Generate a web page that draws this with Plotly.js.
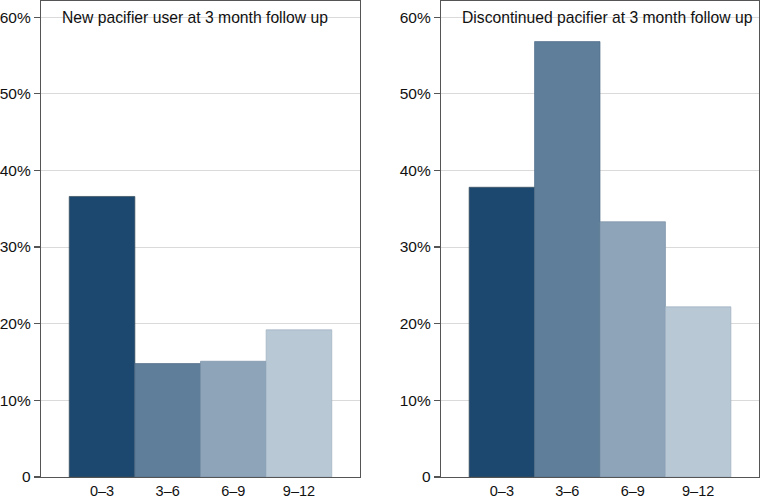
<!DOCTYPE html>
<html>
<head>
<meta charset="utf-8">
<script src="https://cdn.plot.ly/plotly-3.0.1.min.js"></script>
<style>html,body{margin:0;padding:0;background:#fff;}#chart{width:761px;height:498px;}</style>
</head>
<body>
<div id="chart"></div>
<script>
const categories = ["0–3", "3–6", "6–9", "9–12"];
const newUser = [36.6, 14.8, 15.1, 19.2];
const discontinued = [37.8, 56.8, 33.3, 22.2];
const panelTitles = ["New pacifier user at 3 month follow up", "Discontinued pacifier at 3 month follow up"];
const yTickVals = [0, 10, 20, 30, 40, 50, 60];
const yTickText = ["0", "10%", "20%", "30%", "40%", "50%", "60%"];

const barColors = ["#1c4870", "#5f7e9a", "#8ea4b9", "#b9c8d5"];
const lineColors = ["#3a4f5a", "#4f6d88", "#7890a6", "#9fb0c0"];
const xpos = categories.map((c, i) => i + 1);

const traces = [
  {type: "bar", x: xpos, y: newUser, width: 1, xaxis: "x", yaxis: "y",
   marker: {color: barColors, line: {color: lineColors, width: 0.7}}, hoverinfo: "skip"},
  {type: "bar", x: xpos, y: discontinued, width: 1, xaxis: "x2", yaxis: "y2",
   marker: {color: barColors, line: {color: lineColors, width: 0.7}}, hoverinfo: "skip"}
];

const font = {family: "Liberation Sans, Arial, sans-serif", size: 15.5, color: "#111"};
const xfont = {family: "Liberation Sans, Arial, sans-serif", size: 14.5, color: "#111"};
function xa(domain, anchor) {
  return {domain: domain, anchor: anchor, range: [0.07, 4.93], tickvals: xpos, ticktext: categories,
    showgrid: false, zeroline: false, showline: true, linecolor: "#555", linewidth: 1.2,
    mirror: true, ticks: "", tickfont: xfont, fixedrange: true};
}
function ya(anchor) {
  return {anchor: anchor, domain: [0, 1], range: [0, 62.1], tickvals: yTickVals, ticktext: yTickText,
    showgrid: true, gridcolor: "#dadada", gridwidth: 1, zeroline: false,
    showline: true, linecolor: "#555", linewidth: 1.2, mirror: true,
    ticks: "outside", ticklen: 6, tickcolor: "#555", tickwidth: 1.2, tickfont: font, fixedrange: true};
}

const layout = {
  width: 761, height: 498,
  margin: {l: 0, r: 0, t: 1, b: 21},
  paper_bgcolor: "#fff", plot_bgcolor: "#fff",
  showlegend: false,
  bargap: 0,
  font: font,
  xaxis: xa([41/761, 360/761], "y"),
  yaxis: ya("x"),
  xaxis2: xa([441/761, 759/761], "y2"),
  yaxis2: ya("x2"),
  annotations: [
    {text: panelTitles[0], xref: "x domain", yref: "y domain", x: 0.058, y: 0.988, xanchor: "left", yanchor: "top",
     showarrow: false, font: {family: font.family, size: 15.7, color: "#111"}},
    {text: panelTitles[1], xref: "x2 domain", yref: "y2 domain", x: 0.06, y: 0.988, xanchor: "left", yanchor: "top",
     showarrow: false, font: {family: font.family, size: 15.7, color: "#111"}}
  ]
};

Plotly.newPlot("chart", traces, layout, {displayModeBar: false, staticPlot: true});
</script>
</body>
</html>
